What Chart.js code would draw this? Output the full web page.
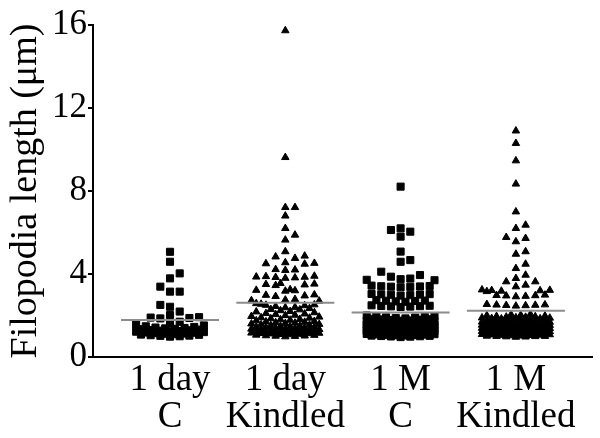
<!DOCTYPE html>
<html><head><meta charset="utf-8">
<script src="https://cdn.jsdelivr.net/npm/chart.js@4"></script>
<style>html,body{margin:0;padding:0;background:#fff}#wrap{width:600px;height:438px}</style>
</head><body><div id="wrap"><canvas id="c" width="600" height="438"></canvas></div>
<script>
const categories = [['1 day','C'],['1 day','Kindled'],['1 M','C'],['1 M','Kindled']];
const yTicks = [0,4,8,12,16];
const means = [1.78, 2.62, 2.14, 2.23];

const day1C = [0.98,1.00,1.02,1.03,1.05,1.07,1.08,1.10,1.12,1.13,1.15,1.17,1.18,1.20,1.22,1.24,1.25,1.27,1.29,1.30,1.32,1.34,1.36,1.38,1.40,1.42,1.45,1.48,1.52,1.56,1.62,1.70,
  1.86,1.88,1.90,1.92,2.02,2.19,2.42,2.51,3.15,3.15,3.39,3.79,4.03,4.59,5.07];

const day1K = [0.98,1.00,1.01,1.02,1.03,1.05,1.06,1.08,1.09,1.10,1.12,1.13,1.14,1.15,1.16,1.17,1.18,1.20,1.21,1.22,1.24,1.25,1.26,1.27,1.28,1.29,1.30,1.32,1.33,1.35,1.36,1.38,1.40,1.41,1.43,1.44,1.45,1.46,1.48,1.50,1.52,1.54,1.56,1.58,1.60,1.62,1.64,1.66,1.68,1.70,1.72,1.75,1.78,1.80,1.82,1.85,1.88,1.90,1.93,1.96,2.00,2.02,2.05,2.08,2.10,2.14,2.18,2.20,2.24,2.28,2.30,2.34,2.38,2.40,2.44,2.48,2.50,2.52,2.55,2.58,
  2.75,2.72,2.78,2.70, 2.95,2.98,2.92,3.00, 3.20,3.22,3.18,3.25, 3.50,3.52,3.48,3.55,3.45,
  3.85,3.88,3.82,3.86,3.90,3.84,3.80, 4.20,4.22,4.18, 4.52,4.48,4.55,4.50,
  4.76,4.83,4.87,5.08,5.64,5.88,6.20,6.80,7.21,7.21,9.62,15.73];

const m1C = [0.96,0.98,0.99,1.00,1.01,1.02,1.03,1.04,1.05,1.06,1.07,1.08,1.09,1.10,1.11,1.12,1.13,1.14,1.15,1.16,1.17,1.18,1.19,1.20,1.21,1.22,1.23,1.24,1.25,1.26,1.27,1.28,1.29,1.30,1.31,1.32,1.33,1.34,1.35,1.36,1.37,1.38,1.39,1.40,1.41,1.42,1.43,1.44,1.45,1.46,1.47,1.48,1.49,1.50,1.51,1.52,1.53,1.54,1.55,1.56,1.57,1.58,1.59,1.60,1.62,1.63,1.64,1.65,1.66,1.68,1.69,1.70,1.71,1.72,1.74,1.75,1.76,1.78,1.80,1.81,1.82,1.84,1.86,1.88,1.90,1.91,1.93,1.95,1.97,2.00,
  2.45,2.47,2.43,2.49,2.41,2.46,2.44, 2.70,2.72,2.68,2.74,2.66,2.71,
  3.00,3.02,2.98,3.04,2.96,3.01,3.03, 3.40,3.42,3.38,3.44,3.36,3.41,3.39,
  3.75,3.78,3.72,3.70, 3.87,3.95,4.11,4.59,4.67,5.08,5.80,6.04,6.12,6.20,8.21];

const m1K = [0.96,0.97,0.98,0.99,1.00,1.00,1.01,1.02,1.03,1.04,1.05,1.06,1.07,1.08,1.09,1.10,1.11,1.12,1.13,1.14,1.15,1.16,1.17,1.18,1.19,1.20,1.21,1.22,1.23,1.24,1.25,1.26,1.27,1.28,1.29,1.30,1.31,1.32,1.33,1.34,1.35,1.36,1.37,1.38,1.39,1.40,1.41,1.42,1.43,1.44,1.45,1.46,1.47,1.48,1.49,1.50,1.51,1.52,1.53,1.54,1.55,1.56,1.57,1.58,1.59,1.60,1.61,1.62,1.63,1.64,1.65,1.66,1.67,1.68,1.69,1.70,1.72,1.73,1.74,1.75,1.77,1.78,1.80,1.81,1.82,1.84,1.85,1.86,1.88,1.89,1.90,1.92,1.93,1.95,1.96,1.98,2.00,2.02,2.04,2.06,
  2.50,2.52,2.48,2.54,2.46,2.51,2.49, 2.95,2.97,2.93,2.99,2.91,2.96, 3.20,3.22,3.18,3.24,3.16,3.21,
  3.39,3.47,3.63,3.63,3.79,3.95,4.27,4.48,4.96,5.08,5.56,5.72,5.77,6.20,6.36,7.00,8.34,9.46,10.30,10.90];

const groups = [day1C, day1K, m1C, m1K];
const markerStyles = ['rect','triangle','rect','triangle'];
const markerRadius = [5, 4.3, 5, 4.3];

// deterministic beeswarm layout: stack points in columns, overflow on half-columns
function swarm(values, center){
  const COL = 0.084, D = 0.37, MAXC = 4;
  const order = [0];
  for (let k = 1; k <= MAXC; k++) order.push(k, -k);
  const all = [0];
  for (let k = 0.5; k <= MAXC - 0.5; k += 0.5) all.push(k, -k);
  const last = {};
  all.forEach(c => last[c] = -Infinity);
  const sorted = values.slice().sort((a,b) => a - b);
  return sorted.map(v => {
    let col = order.find(c => v - last[c] >= D);
    if (col === undefined) col = all.reduce((b, c) => last[c] < last[b] ? c : b, all[0]);
    last[col] = v;
    return {x: center + col * COL, y: v};
  });
}

const datasets = [];
groups.forEach((vals, i) => {
  datasets.push({
    type: 'scatter',
    data: swarm(vals, i),
    pointStyle: markerStyles[i],
    pointRadius: markerRadius[i],
    backgroundColor: '#000',
    borderColor: '#000',
    borderWidth: 1,
    order: 1
  });
});
means.forEach((m, i) => {
  datasets.push({
    type: 'line',
    data: [{x: i - 0.425, y: m}, {x: i + 0.425, y: m}],
    borderColor: '#8c8c8c',
    borderWidth: 2,
    pointRadius: 0,
    order: 0
  });
});

const serif = 'Liberation Serif';
new Chart(document.getElementById('c'), {
  type: 'scatter',
  data: {datasets},
  options: {
    responsive: false,
    animation: false,
    layout: {padding: {top: 25, right: 8, left: 0, bottom: 0}},
    plugins: {legend: {display: false}, tooltip: {enabled: false}},
    scales: {
      x: {
        type: 'linear', min: -0.668, max: 3.66,
        afterBuildTicks: s => { s.ticks = categories.map((c, i) => ({value: i})); },
        ticks: {
          callback: v => categories[v],
          font: {family: serif, size: 37, lineHeight: 1.0},
          color: '#000', padding: 5, maxRotation: 0, autoSkip: false
        },
        grid: {display: false, drawTicks: false},
        border: {display: true, color: '#000', width: 2},
        afterFit: s => { s.height = 81; }
      },
      y: {
        min: 0, max: 16,
        afterBuildTicks: s => { s.ticks = yTicks.map(v => ({value: v})); },
        ticks: {font: {family: serif, size: 35}, color: '#000', padding: 1},
        grid: {drawOnChartArea: false, drawTicks: true, tickLength: 5, color: '#000', lineWidth: 2},
        border: {display: true, color: '#000', width: 2},
        title: {display: true, text: 'Filopodia length (μm)', font: {family: serif, size: 38, lineHeight: 1.2}, color: '#000', padding: {top: 3, bottom: 0}},
        afterFit: s => { s.width = 93; }
      }
    }
  }
});
</script></body></html>
